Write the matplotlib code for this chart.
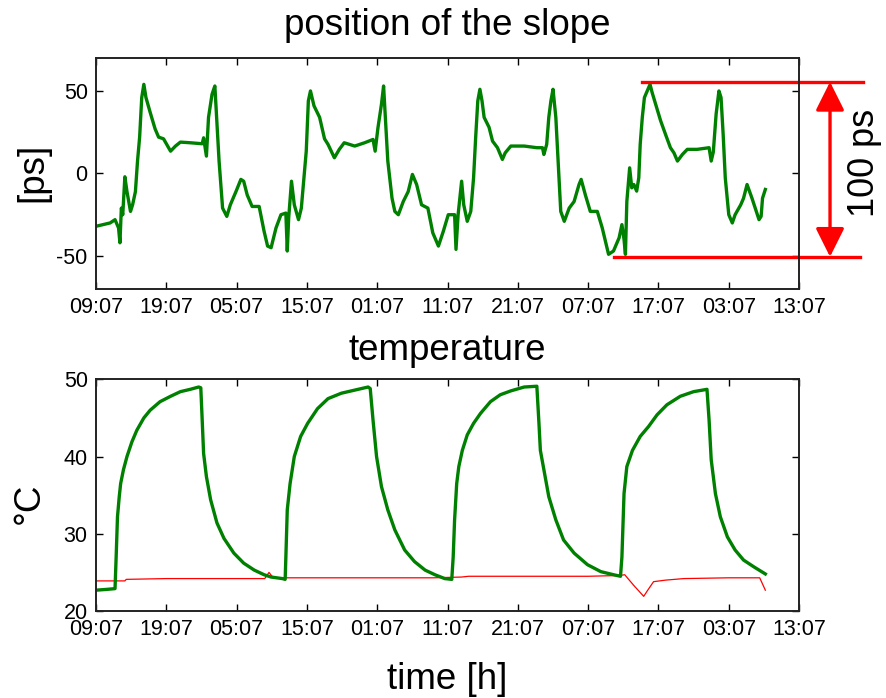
import matplotlib
matplotlib.use("Agg")
import matplotlib.pyplot as plt

plt.rcParams["font.family"] = ["Liberation Sans", "DejaVu Sans"]
plt.rcParams["axes.unicode_minus"] = False

# ---------- data (hours since 09:07) ----------
tick_hours = list(range(0, 101, 10))
tick_labels = ["09:07", "19:07", "05:07", "15:07", "01:07", "11:07",
               "21:07", "07:07", "17:07", "03:07", "13:07"]

slope_h = [0, 1, 2, 2.7, 3.2, 3.4, 3.6, 3.8, 4.1, 4.4, 4.9, 5.2, 5.6, 5.9, 6.2, 6.5,
           6.8, 7.1, 7.7, 8.4, 8.9, 9.6, 10.6, 11.3, 12, 13.4, 15.1, 15.3, 15.7, 16,
           16.5, 16.9, 17.1, 17.5, 18, 18.6, 19.1, 19.9, 20.6, 21, 21.5, 22.2, 23.2,
           23.9, 24.4, 24.9, 25.6, 26.3, 27, 27.2, 27.4, 27.8, 28.2, 28.8, 29.2, 29.9,
           30.2, 30.5, 31, 31.8, 32.5, 33, 33.9, 34.6, 35.3, 36.8, 38.2, 39.4, 39.7,
           40.1, 40.6, 40.9, 41.1, 41.5, 42.1, 42.5, 43, 43.7, 44.4, 45, 45.6, 46.3,
           47.2, 47.9, 48.7, 49.4, 50.1, 51, 51.2, 51.5, 52, 52.3, 52.8, 53.3, 53.7,
           54, 54.3, 54.6, 54.9, 55.2, 55.9, 56.4, 57.1, 57.8, 58.2, 59, 60.9, 62.7,
           63.5, 63.7, 64.1, 64.4, 64.7, 65, 65.4, 65.7, 66.1, 66.6, 67.3, 68, 68.7,
           69, 69.6, 70.3, 71.3, 72, 72.9, 73.6, 74.4, 74.8, 75.1, 75.3, 75.5, 75.9,
           76.2, 76.5, 76.9, 77.2, 77.4, 77.7, 78, 78.4, 78.8, 79.1, 79.6, 80.3, 81,
           81.7, 82.2, 82.7, 83.4, 84.1, 85.5, 87.2, 87.5, 87.8, 88.2, 88.6, 88.9,
           89.2, 89.5, 90, 90.5, 90.9, 91.7, 92.1, 92.6, 93.3, 94.3, 94.6, 94.8, 95.2]
slope_ps = [-32, -31, -30, -28, -33, -42, -21, -25, -2, -11, -23, -19, -11, 7.5, 22, 46,
            54, 46, 37, 27, 22, 21, 13.5, 16.6, 19, 18.6, 18, 21.6, 10.5, 34,
            48, 53, 38, 7.5, -21, -26, -19, -11, -3.6, -4.7, -13, -20, -20,
            -35, -44, -45, -33, -25, -24, -47, -27, -4.7, -19, -28, -21, 13.5,
            44, 50, 41, 34, 21, 17.6, 9.5, 14.6, 18.6, 16.6, 18.6, 20.6, 13.5,
            27.7, 42, 53, 38, 7.5, -15, -23, -25, -17, -11, -0.6, -6.7, -19,
            -21, -36, -44, -35, -25, -25, -46, -25, -4.7, -19, -29, -23, -2.6,
            22, 44, 51, 44, 34, 28, 19.6, 15.6, 8.5, 12.5, 16.6, 16.6, 15.6,
            15.6, 11.5, 17.6, 34, 44, 51, 34, 9.5, -23, -29, -21, -17, -6.7,
            -3.6, -13, -23, -23, -33, -49, -47, -39, -31, -40, -49, -17, 3.4,
            -8.7, -6.7, -10.7, -2.6, 17.6, 34, 46, 50, 54, 49, 42, 32, 23.7,
            15.6, 12.5, 7.5, 11.5, 14.6, 14.6, 15.6, 7.5, 13, 36, 50, 46,
            23.7, -2.6, -25, -30, -25, -19, -15, -6.7, -15, -28, -26, -15, -9.7]

temp_h = [0, 1.5, 2.7, 2.86, 3.05, 3.3, 3.5, 3.9, 4.4, 5.1, 5.8, 6.8, 7.7, 9.1, 10.6,
          12, 13.4, 14.6, 14.9, 15.1, 15.3, 15.7, 16.3, 17.2, 18.2, 19.6, 21, 22.5,
          23.9, 24.9, 26.5, 26.9, 27, 27.2, 27.6, 28.2, 29.1, 30.1, 31.5, 33, 34.9,
          36.8, 38.7, 39.0, 39.4, 39.9, 40.6, 41.5, 42.5, 43.9, 45.3, 46.8, 48.2,
          49.6, 50.6, 50.8, 51.0, 51.3, 51.6, 52.1, 52.8, 53.7, 54.7, 56.1, 57.5,
          59, 60.9, 62.7, 63.0, 63.2, 63.7, 64.4, 65.4, 66.5, 68, 69.9, 71.8, 73.6,
          74.6, 74.8, 75.1, 75.5, 76.3, 77.4, 78.6, 79.8, 81.2, 83.1, 85, 86.9,
          87.2, 87.5, 88.1, 88.8, 89.8, 90.9, 92.1, 93.6, 95.2]
temp_c = [22.7, 22.8, 22.9, 27, 32.2, 34.8, 36.5, 38.3, 40, 41.9, 43.4, 45, 46, 47.1, 47.8,
          48.4, 48.7, 49, 48.9, 44.7, 40.4, 37.4, 34.4, 31.4, 29.4, 27.5, 26.2, 25.3,
          24.7, 24.4, 24.2, 24.1, 27, 33.1, 36.5, 40, 42.6, 44.3, 46.2, 47.5, 48.2,
          48.6, 49, 48.8, 44.7, 40, 36.1, 33.1, 30.5, 27.9, 26.4, 25.3, 24.7,
          24.2, 24.1, 27, 31.8, 36.5, 38.7, 40.8, 42.8, 44.3, 45.6, 47.1, 48,
          48.5, 49, 49.1, 44.3, 40.8, 38.3, 34.8, 31.8, 29.2, 27.5, 26, 25.1, 24.7,
          24.5, 27, 35.2, 38.7, 40.8, 42.6, 43.9, 45.4, 46.7, 47.8, 48.4, 48.7,
          44.7, 39.6, 35.2, 32.2, 29.6, 27.9, 26.6, 25.7, 24.8]

amb_h = [0, 4.1, 4.3, 10, 24.0, 24.6, 25.2, 30, 40, 48, 52, 53, 60, 70, 74.5, 75.2,
         76.5, 77.9, 78.4, 79.3, 81, 83.6, 90, 94.4, 95.2]
amb_c = [23.9, 23.9, 24.1, 24.2, 24.2, 25.0, 24.3, 24.3, 24.3, 24.3, 24.4, 24.5, 24.5,
         24.5, 24.6, 24.7, 23.3, 21.9, 22.6, 23.8, 24.0, 24.2, 24.3, 24.3, 22.7]

# 100 ps range marker
range_top, range_bottom = 55.5, -50.5
range_top_x = [77.6, 109.1]
range_bottom_x = [73.7, 108.7]
range_arrow_x = 104.4

GREEN = "#008000"

fig = plt.figure(figsize=(8.86, 6.98), dpi=100)
ax1 = fig.add_axes([0.1084, 0.586, 0.7935, 0.331])
ax2 = fig.add_axes([0.1084, 0.1246, 0.7935, 0.332])

for ax in (ax1, ax2):
    ax.set_xlim(0, 100)
    ax.set_xticks(tick_hours)
    ax.set_xticklabels(tick_labels)
    ax.tick_params(direction="in", top=True, right=True, length=5, width=1,
                   labelsize=15.5, pad=6)
    for s in ax.spines.values():
        s.set_linewidth(1.4)
        s.set_color("#222222")

# ---------- top: slope position ----------
ax1.plot(slope_h, slope_ps, color=GREEN, lw=2.4)
ax1.set_ylim(-70, 70)
ax1.set_yticks([-50, 0, 50])

ax1.plot(range_top_x, [range_top, range_top], color="red", lw=2.4, clip_on=False)
ax1.plot(range_bottom_x, [range_bottom, range_bottom], color="red", lw=2.4, clip_on=False)
ax1.annotate("", xy=(range_arrow_x, range_bottom), xytext=(range_arrow_x, range_top),
             arrowprops=dict(arrowstyle="<|-|>,head_length=0.8,head_width=0.4",
                             color="red", lw=2.4, mutation_scale=22,
                             shrinkA=0, shrinkB=0),
             annotation_clip=False)
fig.text(864 / 886, 1 - 163 / 698, "100 ps", rotation=90, fontsize=26,
         ha="center", va="center")

# ---------- bottom: temperature ----------
ax2.plot(amb_h, amb_c, color="red", lw=0.9)
ax2.plot(temp_h, temp_c, color=GREEN, lw=2.4)
ax2.set_ylim(20, 50)
ax2.set_yticks([20, 30, 40, 50])

# ---------- text ----------
fig.text(0.505, 1 - 35 / 698, "position of the slope", fontsize=26.5,
         ha="center", va="baseline")
fig.text(0.505, 1 - 360 / 698, "temperature", fontsize=26.5,
         ha="center", va="baseline")
fig.text(0.505, 1 - 689 / 698, "time [h]", fontsize=26.5,
         ha="center", va="baseline")
fig.text(33 / 886, 1 - 172 / 698, "[ps]", rotation=90, fontsize=26.5,
         ha="center", va="center")
fig.text(29 / 886, 1 - 503 / 698, "°C", rotation=90, fontsize=26.5,
         ha="center", va="center")

fig.savefig("out.png", dpi=100)
